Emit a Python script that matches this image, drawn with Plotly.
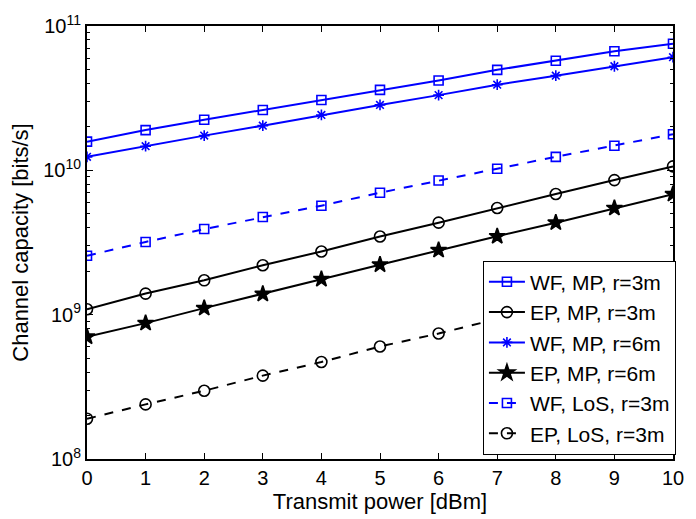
import plotly.graph_objects as go

power_dbm = [0, 1, 2, 3, 4, 5, 6, 7, 8, 9, 10]

wf_mp_3m = [1.58e10, 1.90e10, 2.24e10, 2.62e10, 3.07e10, 3.61e10, 4.19e10, 4.97e10, 5.74e10, 6.68e10, 7.53e10]
ep_mp_3m = [1.09e9, 1.40e9, 1.73e9, 2.20e9, 2.74e9, 3.48e9, 4.34e9, 5.48e9, 6.85e9, 8.56e9, 1.065e10]
wf_mp_6m = [1.24e10, 1.47e10, 1.74e10, 2.04e10, 2.42e10, 2.84e10, 3.32e10, 3.92e10, 4.53e10, 5.26e10, 6.08e10]
ep_mp_6m = [7.03e8, 8.74e8, 1.11e9, 1.39e9, 1.76e9, 2.22e9, 2.80e9, 3.49e9, 4.34e9, 5.48e9, 6.84e9]
wf_los_3m = [2.56e9, 3.19e9, 3.92e9, 4.75e9, 5.69e9, 7.00e9, 8.51e9, 1.026e10, 1.24e10, 1.48e10, 1.78e10]
ep_los_3m = [1.90e8, 2.39e8, 2.97e8, 3.78e8, 4.70e8, 6.02e8, 7.40e8, 9.33e8, 1.20e9, 1.53e9, 1.88e9]

series = [
    ("WF, MP, r=3m", wf_mp_3m, "blue", "solid", "square-open", 9),
    ("EP, MP, r=3m", ep_mp_3m, "black", "solid", "circle-open", 11),
    ("WF, MP, r=6m", wf_mp_6m, "blue", "solid", "asterisk-open", 9),
    ("EP, MP, r=6m", ep_mp_6m, "black", "solid", "star", 12),
    ("WF, LoS, r=3m", wf_los_3m, "blue", "dash", "square-open", 9),
    ("EP, LoS, r=3m", ep_los_3m, "black", "dash", "circle-open", 11),
]

y_major = [1e8, 1e9, 1e10, 1e11]
y_major_text = ["10<sup>8</sup>", "10<sup>9</sup>", "10<sup>10</sup>", "10<sup>11</sup>"]
y_minor = [m * 10 ** e for e in (8, 9, 10) for m in range(2, 10)]

fig = go.Figure()
for name, vals, color, dash, sym, size in series:
    fig.add_trace(go.Scatter(
        x=power_dbm, y=vals, name=name, mode="lines+markers",
        line=dict(color=color, width=2, dash=dash),
        marker=dict(symbol=sym, size=size, color=color,
                    line=dict(color=color, width=1.6)),
    ))

fam = "Liberation Sans, Arial, sans-serif"
tick_font = dict(family=fam, size=20, color="black")
title_font = dict(family=fam, size=22, color="black")
fig.update_layout(
    width=696, height=519,
    margin=dict(l=87, r=13, t=14, b=60),
    paper_bgcolor="white", plot_bgcolor="white",
    font=tick_font,
    showlegend=True,
    legend=dict(
        x=1.005, y=0.01, xanchor="right", yanchor="bottom",
        bgcolor="white", bordercolor="black", borderwidth=1,
        font=dict(family=fam, size=21, color="black"),
        itemwidth=36, tracegroupgap=0,
    ),
    xaxis=dict(
        range=[0, 10], tickvals=power_dbm, ticks="inside", ticklen=6,
        tickwidth=1, tickcolor="black",
        showline=True, linecolor="black", linewidth=2, mirror="ticks",
        showgrid=False, zeroline=False, ticklabeloverflow="allow",
        title=dict(text="Transmit power [dBm]", standoff=0, font=title_font),
        tickfont=tick_font,
    ),
    yaxis=dict(
        type="log", range=[8, 11], tickvals=y_major, ticktext=y_major_text,
        ticks="inside", ticklen=6, tickwidth=1, tickcolor="black",
        showline=True, linecolor="black", linewidth=2, mirror="ticks",
        showgrid=False, zeroline=False, ticklabeloverflow="allow",
        minor=dict(tickvals=y_minor, ticks="inside", ticklen=3, tickcolor="black", showgrid=False),
        title=dict(text="Channel capacity [bits/s]", standoff=8, font=title_font),
        tickfont=tick_font,
    ),
)

fig.write_html("out.html")
